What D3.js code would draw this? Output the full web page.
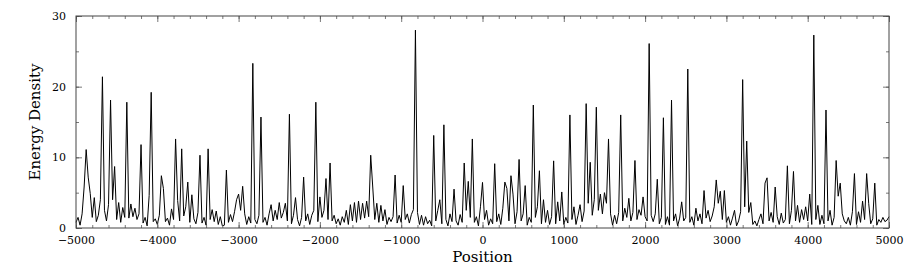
<!DOCTYPE html>
<html>
<head>
<meta charset="utf-8">
<script src="https://cdn.jsdelivr.net/npm/d3@7"></script>
<style>
    body { margin: 0; background: #fff; }
    svg text { font-family: "DejaVu Serif", "Liberation Serif", serif; fill: #000; }
</style>
</head>
<body>
<div id="chart"></div>
<script>
(function() {
    'use strict';

    // samples are evenly spaced, 25 units apart, starting at -5000
    var positionStart = -5000;
    var positionStep = 25;

    var energyDensity = [
        // -5000 .. -4025
        0.8, 1.5, 0.4, 2.0, 5.8, 11.1, 7.2, 4.9, 1.5, 4.3, 0.9, 1.8, 4.0, 21.4, 2.5, 1.0, 3.3, 18.1, 4.0, 8.7,
        1.2, 3.6, 0.8, 2.9, 1.5, 17.8, 1.4, 3.4, 1.6, 2.8, 1.2, 2.0, 11.8, 0.7, 1.5, 0.3, 4.6, 19.2, 0.9, 1.3,
        // -4000 .. -3025
        0.5, 1.8, 7.4, 5.6, 0.9, 1.4, 0.4, 2.7, 1.2, 12.6, 3.9, 1.0, 11.2, 1.7, 3.0, 6.5, 0.8, 4.7, 1.3, 0.6,
        2.2, 10.3, 0.7, 1.5, 0.4, 11.2, 1.2, 2.6, 0.9, 2.4, 0.5, 1.6, 0.3, 0.4, 8.2, 0.8, 1.9, 0.9, 2.3, 4.0,
        // -3000 .. -2025
        4.8, 2.5, 5.9, 2.0, 0.5, 1.6, 0.7, 23.3, 1.2, 0.6, 1.8, 15.7, 0.8, 1.5, 0.4, 2.0, 3.3, 1.0, 2.5, 1.2,
        3.6, 1.4, 2.2, 3.5, 1.0, 16.1, 0.6, 1.8, 4.3, 1.2, 0.3, 1.5, 7.2, 1.0, 2.0, 0.5, 1.8, 2.5, 17.8, 0.9,
        // -2000 .. -1025
        4.4, 1.5, 2.5, 7.0, 1.2, 9.2, 1.0, 1.8, 0.6, 1.3, 0.4, 1.6, 0.8, 2.5, 0.5, 3.3, 1.0, 3.6, 0.8, 3.8,
        1.2, 3.5, 1.4, 3.8, 1.6, 10.3, 5.8, 1.2, 3.5, 0.8, 3.2, 1.0, 2.6, 0.5, 1.5, 0.9, 1.6, 7.5, 0.7, 1.8,
        // -1000 .. -25
        0.8, 6.0, 1.2, 2.0, 0.7, 1.9, 2.6, 28.0, 2.2, 0.5, 1.8, 0.4, 1.6, 0.6, 1.1, 0.3, 13.1, 1.0, 2.5, 4.0,
        0.6, 14.6, 1.2, 0.3, 2.0, 0.9, 5.5, 1.0, 0.4, 1.9, 0.8, 9.2, 2.5, 6.6, 1.5, 12.6, 0.8, 1.6, 0.3, 3.0,
        // 0 .. 975
        6.45, 1.2, 2.5, 0.4, 1.3, 0.6, 9.1, 0.9, 2.0, 0.5, 2.8, 6.5, 5.6, 1.0, 7.4, 4.8, 0.6, 2.3, 9.7, 1.0,
        2.0, 6.0, 0.4, 1.5, 0.8, 17.4, 1.5, 3.0, 8.1, 0.6, 4.0, 0.8, 2.5, 0.5, 1.6, 9.5, 0.6, 3.7, 1.0, 5.1,
        // 1000 .. 1975
        0.5, 1.5, 0.7, 16.0, 1.2, 3.0, 0.5, 1.8, 3.3, 0.9, 2.4, 17.6, 3.5, 9.3, 1.8, 4.0, 17.1, 2.5, 4.8, 2.0,
        5.0, 3.5, 12.6, 2.0, 0.4, 1.8, 0.6, 2.2, 16.0, 1.0, 2.8, 1.5, 4.2, 1.0, 2.2, 9.55, 1.2, 2.6, 1.8, 4.4,
        // 2000 .. 2975
        1.6, 1.0, 26.1, 1.8, 0.9, 2.0, 6.9, 0.6, 1.5, 15.6, 0.5, 1.6, 0.4, 18.1, 1.0, 2.0, 0.3, 1.4, 3.7, 1.0,
        1.5, 22.5, 0.8, 1.6, 0.4, 2.8, 1.0, 2.0, 0.6, 5.3, 1.4, 2.5, 0.9, 1.7, 3.0, 6.8, 3.5, 5.2, 1.2, 5.3,
        // 3000 .. 3975
        0.8, 1.6, 0.4, 1.4, 2.5, 0.3, 1.0, 2.3, 21.0, 3.0, 12.3, 2.2, 3.6, 0.5, 1.0, 0.3, 1.2, 2.0, 0.6, 6.35,
        7.1, 1.0, 2.2, 0.8, 5.8, 1.6, 0.5, 2.1, 0.7, 1.2, 8.8, 0.6, 2.5, 8.0, 1.0, 3.2, 0.8, 2.6, 1.2, 3.0,
        // 4000 .. 5000
        1.0, 4.8, 0.5, 27.3, 1.2, 3.2, 0.5, 1.8, 0.6, 16.7, 1.0, 2.5, 0.4, 1.5, 9.55, 4.5, 6.35, 2.0, 1.0, 0.6,
        1.5, 0.4, 2.3, 7.7, 0.5, 2.3, 0.8, 3.8, 1.2, 7.7, 3.5, 0.6, 1.3, 6.35, 0.4, 1.2, 0.8, 1.5, 0.9, 1.1,
        1.6
    ];

    var xTicks = [-5000, -4000, -3000, -2000, -1000, 0, 1000, 2000, 3000, 4000, 5000];
    var yTicks = [0, 10, 20, 30];

    var width = 904, height = 278;
    var margin = {top: 16, right: 15, bottom: 50, left: 76};
    var innerW = width - margin.left - margin.right;
    var innerH = height - margin.top - margin.bottom;

    var points = energyDensity.map(function(v, i) {
        return {pos: positionStart + i * positionStep, val: v};
    });

    var x = d3.scaleLinear().domain([-5000, 5000]).range([0, innerW]);
    var y = d3.scaleLinear().domain([0, 30]).range([innerH, 0]);

    var svg = d3.select('#chart').append('svg')
        .attr('width', width)
        .attr('height', height);

    var g = svg.append('g')
        .attr('transform', 'translate(' + margin.left + ',' + margin.top + ')');

    // data line
    var line = d3.line()
        .x(function(d) { return x(d.pos); })
        .y(function(d) { return y(d.val); });

    g.append('path')
        .datum(points)
        .attr('fill', 'none')
        .attr('stroke', '#000')
        .attr('stroke-width', 1)
        .attr('d', line);

    // inward ticks on all four sides, minor ones without labels
    var xMinor = d3.range(-5000, 5001, 200);
    var yMinor = d3.range(0, 31, 5);

    function styleAxis(sel) {
        sel.select('.domain').remove();
        sel.selectAll('line').attr('stroke', '#555').attr('stroke-width', 0.8);
        sel.selectAll('text').style('font-size', '11px');
    }

    g.append('g')
        .attr('transform', 'translate(0,' + innerH + ')')
        .call(d3.axisBottom(x).tickValues(xTicks).tickSize(-6).tickPadding(8).tickFormat(d3.format('d')))
        .call(styleAxis);
    g.append('g')
        .attr('transform', 'translate(0,' + innerH + ')')
        .call(d3.axisBottom(x).tickValues(xMinor).tickSize(-3).tickFormat(''))
        .call(styleAxis);
    g.append('g')
        .call(d3.axisTop(x).tickValues(xTicks).tickSize(-6).tickFormat(''))
        .call(styleAxis);
    g.append('g')
        .call(d3.axisTop(x).tickValues(xMinor).tickSize(-3).tickFormat(''))
        .call(styleAxis);

    g.append('g')
        .call(d3.axisLeft(y).tickValues(yTicks).tickSize(-6).tickPadding(10).tickFormat(d3.format('d')))
        .call(styleAxis);
    g.append('g')
        .call(d3.axisLeft(y).tickValues(yMinor).tickSize(-3).tickFormat(''))
        .call(styleAxis);
    g.append('g')
        .attr('transform', 'translate(' + innerW + ',0)')
        .call(d3.axisRight(y).tickValues(yTicks).tickSize(-6).tickFormat(''))
        .call(styleAxis);
    g.append('g')
        .attr('transform', 'translate(' + innerW + ',0)')
        .call(d3.axisRight(y).tickValues(yMinor).tickSize(-3).tickFormat(''))
        .call(styleAxis);

    // frame
    g.append('rect')
        .attr('width', innerW)
        .attr('height', innerH)
        .attr('fill', 'none')
        .attr('stroke', '#444')
        .attr('stroke-width', 1);

    // axis titles
    svg.append('text')
        .attr('x', margin.left + innerW / 2)
        .attr('y', 262)
        .attr('text-anchor', 'middle')
        .style('font-size', '15px')
        .text('Position');

    svg.append('text')
        .attr('transform', 'translate(40,' + (margin.top + innerH / 2) + ') rotate(-90)')
        .attr('text-anchor', 'middle')
        .style('font-size', '15px')
        .text('Energy Density');
})();
</script>
</body>
</html>
